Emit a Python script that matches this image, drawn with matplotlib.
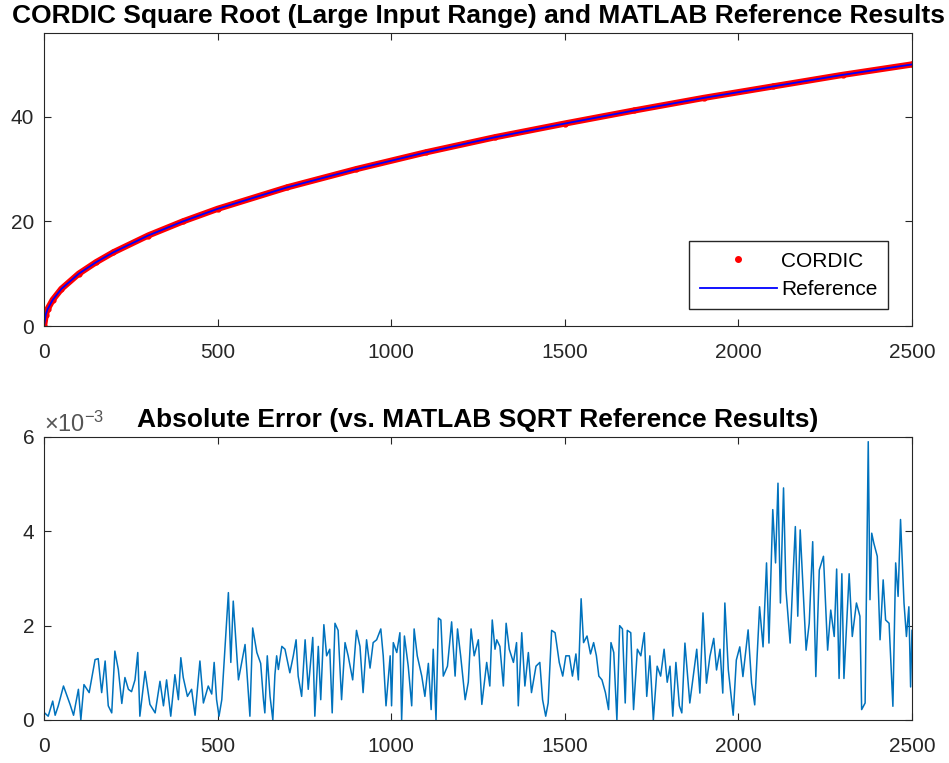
# CORDIC square root vs MATLAB reference, with absolute error

import matplotlib
matplotlib.use("Agg")
import matplotlib.pyplot as plt
from matplotlib.lines import Line2D

plt.rcParams["font.family"] = ["Liberation Sans", "DejaVu Sans"]
plt.rcParams["mathtext.fontset"] = "custom"
plt.rcParams["mathtext.rm"] = "Liberation Sans"
plt.rcParams["mathtext.it"] = "Liberation Sans"

# -------------------------
# Data
# -------------------------
sqrt_x = [0, 5, 10, 25, 50, 100, 150, 200, 300, 400, 500, 700, 900, 1100,
          1300, 1500, 1700, 1900, 2100, 2300, 2500]
sqrt_y = [0.0, 2.2, 3.2, 5.0, 7.1, 10.0, 12.2, 14.1, 17.3, 20.0, 22.4, 26.5,
          30.0, 33.2, 36.1, 38.7, 41.2, 43.6, 45.8, 48.0, 50.0]

err_x = [0, 12, 25, 32, 41, 56, 75, 85, 99, 106, 115, 130, 142, 147, 156, 166,
         176, 185, 195, 204, 214, 224, 233, 243, 252, 262, 270, 276, 291, 305,
         320, 334, 344, 353, 365, 377, 387, 394, 401, 413, 425, 435, 449, 459,
         473, 483, 490, 497, 504, 512, 518, 531, 538, 545, 560, 579, 593, 601,
         613, 624, 632, 636, 643, 651, 659, 665, 670, 675, 685, 694, 708, 718,
         726, 732, 742, 752, 761, 774, 780, 790, 797, 806, 814, 823, 830, 838,
         847, 857, 867, 876, 889, 900, 910, 919, 929, 939, 948, 958, 970, 977,
         985, 997, 1001, 1006, 1016, 1025, 1030, 1038, 1049, 1059, 1066, 1075,
         1088, 1097, 1107, 1115, 1121, 1129, 1136, 1143, 1150, 1162, 1174, 1184,
         1191, 1200, 1213, 1222, 1230, 1239, 1251, 1261, 1267, 1275, 1284, 1291,
         1299, 1304, 1313, 1323, 1331, 1340, 1352, 1361, 1366, 1376, 1385, 1395,
         1404, 1417, 1428, 1436, 1445, 1452, 1462, 1472, 1484, 1494, 1503, 1513,
         1522, 1532, 1539, 1547, 1554, 1564, 1574, 1583, 1591, 1598, 1607, 1617,
         1626, 1633, 1641, 1650, 1658, 1666, 1674, 1680, 1690, 1698, 1709, 1719,
         1729, 1736, 1745, 1755, 1766, 1776, 1786, 1795, 1803, 1811, 1820, 1830,
         1837, 1846, 1860, 1880, 1889, 1898, 1908, 1918, 1929, 1937, 1947, 1955,
         1961, 1971, 1985, 1994, 2004, 2013, 2028, 2038, 2047, 2061, 2071, 2081,
         2088, 2099, 2107, 2114, 2121, 2130, 2137, 2149, 2156, 2164, 2171, 2178,
         2185, 2195, 2204, 2214, 2223, 2233, 2245, 2257, 2266, 2276, 2283, 2290,
         2298, 2304, 2319, 2328, 2340, 2350, 2355, 2365, 2374, 2379, 2384, 2390,
         2400, 2408, 2417, 2424, 2434, 2445, 2453, 2460, 2467, 2477, 2484, 2491,
         2496, 2500]
# absolute error in units of 1e-3
err_e3 = [0.16, 0.08, 0.4, 0.1, 0.3, 0.72, 0.33, 0.1, 0.65, 0.0, 0.75, 0.58,
          1.07, 1.28, 1.3, 0.58, 1.25, 0.3, 0.15, 1.46, 1.07, 0.35, 0.9, 0.65,
          0.6, 0.85, 1.43, 0.08, 1.03, 0.33,
          0.15, 0.82, 0.3, 0.85, 0.08, 0.96, 0.43, 1.32, 0.9, 0.5, 0.65, 0.1,
          1.25, 0.36, 0.72, 0.55, 1.22, 0.43, 0.08, 0.43, 1.14, 2.7, 1.22, 2.52,
          0.85, 1.6, 0.08, 1.95, 1.43, 1.2, 0.43,
          0.15, 1.36, 0.5, 0.0, 0.96, 1.36, 1.07, 1.56, 1.5, 1.0, 1.36, 1.7,
          0.93, 0.5, 1.7, 0.65, 1.75, 0.08, 1.56, 0.43, 2.02, 1.36, 1.5, 0.15,
          2.05, 1.9, 0.43, 1.64, 1.36, 0.85, 1.9, 1.56, 0.58, 1.7, 1.1,
          1.64, 1.7, 1.93, 1.36, 0.3, 1.36, 0.3, 1.64, 1.43, 1.85, 0.0, 1.78,
          1.14, 0.3, 1.93, 1.36, 0.93, 0.5, 1.2, 0.22, 1.5, 0.0, 2.16, 2.12,
          0.93, 1.14, 2.08, 0.93, 1.93, 1.36, 0.43, 0.8, 1.93, 1.36, 1.7, 0.33,
          0.72, 1.22, 0.72, 2.12, 1.5, 1.7, 1.56, 0.72, 2.05, 1.5, 1.22, 1.64,
          0.3, 1.85, 0.72, 1.43, 0.58, 1.14, 1.22, 0.43, 0.08, 0.36, 1.9, 1.85,
          1.22, 0.93, 1.36, 1.36, 0.93, 1.4, 0.85, 2.57, 1.64, 1.78, 1.4,
          1.64, 1.36, 0.93, 0.85, 0.58, 0.22, 1.64, 1.43, 0.0, 2.0, 1.93, 0.36,
          1.9, 1.85, 0.22, 1.5, 1.36, 1.85, 0.5, 1.36, 0.0, 1.14, 0.93, 1.5,
          0.8, 1.14, 0.08, 1.22, 0.3, 0.15, 1.63, 0.36, 1.5, 0.57, 2.27,
          0.78, 1.35, 1.73, 1.06, 1.5, 0.57, 2.48, 1.06, 0.1, 1.27, 1.55, 0.92,
          1.91, 0.78, 0.32, 2.4, 1.55, 3.33, 1.63, 4.46, 3.33, 5.02, 2.48, 4.92,
          2.76, 1.63, 2.83, 4.1, 2.2, 4.03, 2.97, 1.48, 2.05, 3.78, 0.92, 3.18,
          3.47, 1.48, 2.33, 1.77, 3.2, 0.88, 3.1, 0.88, 3.1, 1.77, 2.48, 2.2,
          0.22, 0.36, 5.9, 2.55, 3.96, 3.75, 3.47, 1.7, 2.97, 2.12, 2.05, 0.29,
          3.33, 2.62, 4.25, 2.48, 1.77, 2.4, 0.7, 1.9]

x_ticks = [0, 500, 1000, 1500, 2000, 2500]

# -------------------------
# Figure
# -------------------------
fig = plt.figure(figsize=(9.49, 7.63), dpi=100)
ax1 = fig.add_axes([0.0464, 0.5727, 0.9146, 0.3840])
ax2 = fig.add_axes([0.0464, 0.0564, 0.9146, 0.3709])

edge = "#262626"
for ax in (ax1, ax2):
    for s in ax.spines.values():
        s.set_color(edge)
        s.set_linewidth(0.8)
    ax.tick_params(direction="in", top=True, right=True, length=5,
                   width=0.8, color=edge, labelcolor=edge, labelsize=15)
    ax.tick_params(axis="x", pad=12)
    ax.tick_params(axis="y", pad=7)
    ax.set_xlim(0, 2500)
    ax.set_xticks(x_ticks)

# top: sqrt
ax1.plot(sqrt_x, sqrt_y, color="red", lw=4.5, solid_capstyle="round")
ax1.plot(sqrt_x, sqrt_y, ".", color="red", ms=7)
ax1.plot(sqrt_x, sqrt_y, color="blue", lw=1.3)
ax1.set_ylim(0, 56)
ax1.set_yticks([0, 20, 40])
ax1.set_title("CORDIC Square Root (Large Input Range) and MATLAB Reference Results",
              fontsize=19, fontweight="bold", pad=7)

handles = [Line2D([], [], ls="none", marker=".", color="red", ms=8),
           Line2D([], [], color="blue", lw=1.3)]
ax1.legend(handles, ["CORDIC", "Reference"], loc="lower right",
           bbox_to_anchor=(0.972, 0.057), borderaxespad=0, fontsize=15,
           fancybox=False, framealpha=1, edgecolor=edge, handlelength=3.7,
           handletextpad=0.2, borderpad=0.5, labelspacing=0.45)

# bottom: error
ax2.plot(err_x, err_e3, color="#0072BD", lw=1.1)
ax2.set_ylim(0, 6)
ax2.set_yticks([0, 2, 4, 6])
ax2.set_title("Absolute Error (vs. MATLAB SQRT Reference Results)",
              fontsize=19, fontweight="bold", pad=7)
ax2.text(0.0, 1.0, r"$\times10^{-3}$", transform=ax2.transAxes,
         fontsize=17, color="#555555", ha="left", va="bottom")

fig.savefig("out.png", dpi=100)
